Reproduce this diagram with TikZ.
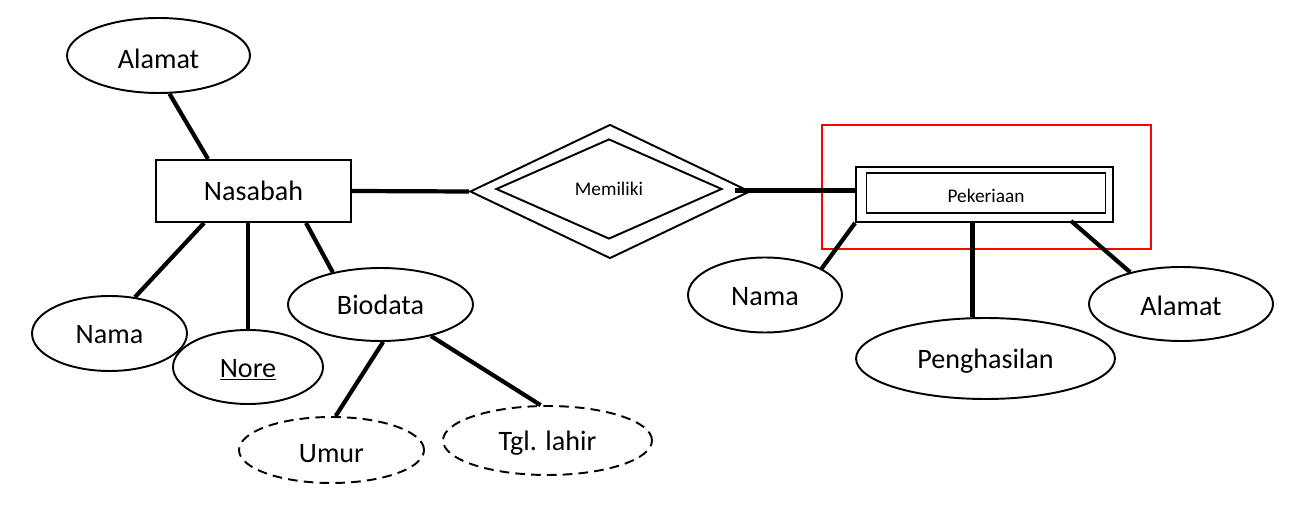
\documentclass[tikz,border=0pt]{standalone}
\usepackage{fontspec}
\setmainfont{Carlito}
\usetikzlibrary{shapes.geometric}
\newcommand\lowtxt[2][-1.3pt]{\raisebox{#1}[\height][\depth]{#2}}
\begin{document}
\begin{tikzpicture}[x=0.02cm,y=-0.02cm,
  attr/.style={draw,ellipse,line width=1.1pt,inner sep=0pt,font=\fontsize{16}{18}\selectfont},
  derived/.style={attr,dash pattern=on 5.5pt off 3.5pt},
  entity/.style={draw,rectangle,line width=1.1pt,inner sep=0pt},
  rel/.style={draw,diamond,line width=1.1pt,inner sep=0pt},
  conn/.style={line width=2.4pt},
  big/.style={font=\fontsize{16}{18}\selectfont},
  small/.style={font=\fontsize{11}{13}\selectfont}]
\useasboundingbox (0,0) rectangle (1308,509);
% red frame
\node[draw=red,line width=0.7pt,minimum width=6.58cm,minimum height=2.48cm,inner sep=0pt] (frame) at (986.5,187) {};
% left entity and attributes
\node[attr,minimum width=3.66cm,minimum height=1.5cm] (alamat1) at (158.5,55.5) {\lowtxt[-1.7pt]{Alamat}};
\node[entity,big,minimum width=3.9cm,minimum height=1.24cm] (nasabah) at (253.5,191) {Nasabah};
\node[attr,minimum width=3.1cm,minimum height=1.5cm] (nama1) at (109.5,333.5) {\lowtxt[-0.6pt]{Nama}};
\node[attr,minimum width=3.0cm,minimum height=1.48cm] (nore) at (248,367) {\lowtxt[-1.7pt]{\underline{Nore}}};
\node[attr,minimum width=3.7cm,minimum height=1.46cm] (biodata) at (380.5,304.5) {Biodata};
\node[derived,minimum width=3.7cm,minimum height=1.32cm] (umur) at (331.5,450) {\lowtxt[-2.3pt]{Umur}};
\node[derived,minimum width=4.18cm,minimum height=1.38cm] (tgl) at (547.5,440.5) {\lowtxt[-1.7pt]{Tgl. lahir}};
% relationship
\node[rel,minimum width=5.6cm,minimum height=2.68cm] (dia) at (610,191.5) {};
\node[rel,small,minimum width=4.52cm,minimum height=2.0cm] (diain) at (609,189) {Memiliki};
% weak entity
\node[entity,minimum width=5.14cm,minimum height=1.1cm] (pek) at (984.5,194.5) {};
\node[entity,small,line width=1pt,minimum width=4.78cm,minimum height=0.8cm] (pekin) at (986,193.3) {\lowtxt[-1.7pt]{Pekeriaan}};
\node[attr,minimum width=3.08cm,minimum height=1.5cm] (nama2) at (765,295) {\lowtxt[-0.8pt]{Nama}};
\node[attr,minimum width=5.18cm,minimum height=1.62cm] (peng) at (985.5,358.5) {\lowtxt[-1.7pt]{Penghasilan}};
\node[attr,minimum width=3.68cm,minimum height=1.48cm] (alamat2) at (1181,304) {\lowtxt[-1.1pt]{Alamat}};
% connectors
\draw[conn] (alamat1.-74) -- ([xshift=1.06cm]nasabah.north west);
\draw[conn] (nasabah.east) -- (dia.west);
\draw[conn] ([xshift=-0.32cm,yshift=0.02cm]dia.east) -- ([yshift=0.02cm]dia.east -| pek.west);
\draw[conn] ([xshift=0.98cm]nasabah.south west) -- (nama1.55);
\draw[conn] (nore.north) -- (nore.north |- nasabah.south);
\draw[conn] ([xshift=3.02cm]nasabah.south west) -- (biodata.146);
\draw[conn] (biodata.-86) -- (umur.83);
\draw[conn] (biodata.-32) -- (tgl.101);
\draw[conn] (pek.south west) -- (nama2.25);
\draw[conn] ([xshift=-0.26cm]peng.north) -- ([xshift=-0.26cm]peng.north |- pek.south);
\draw[conn] ([xshift=4.32cm,yshift=0.04cm]pek.south west) -- (alamat2.148);
\end{tikzpicture}
\end{document}
